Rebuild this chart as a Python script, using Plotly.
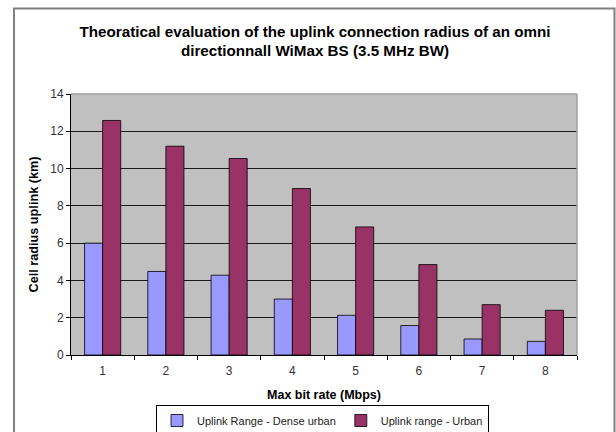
import plotly.graph_objects as go

categories = ["1", "2", "3", "4", "5", "6", "7", "8"]
dense_urban = [6.0, 4.48, 4.28, 3.0, 2.13, 1.58, 0.86, 0.73]
urban = [12.58, 11.2, 10.54, 8.93, 6.87, 4.85, 2.7, 2.4]
y_ticks = [0, 2, 4, 6, 8, 10, 12, 14]

FONT = "Liberation Sans, Arial, sans-serif"

fig = go.Figure()
fig.add_trace(go.Bar(x=categories, y=dense_urban, name="Uplink Range - Dense urban",
                     marker=dict(color="#9999FF", line=dict(color="#000000", width=0.8))))
fig.add_trace(go.Bar(x=categories, y=urban, name="Uplink range - Urban",
                     marker=dict(color="#993366", line=dict(color="#000000", width=0.8))))

W, H = 616, 432
# plot area in window pixels: x 71..577, y 94..355
L, R, T, B = 71, 616 - 577, 94, 432 - 355
pw, ph = W - L - R, H - T - B

def px(x):
    return (x - L) / pw

def py(y):
    return (H - B - y) / ph

fig.update_layout(
    width=W, height=H,
    margin=dict(l=L, r=R, t=T, b=B, pad=0, autoexpand=False),
    paper_bgcolor="white",
    plot_bgcolor="#C0C0C0",
    barmode="group",
    bargap=0.4286,
    bargroupgap=0,
    font=dict(family=FONT, size=12, color="#222222"),
    title=dict(text="<b>Theoratical evaluation of the uplink connection radius of an omni<br>directionnall WiMax BS (3.5 MHz BW)</b>",
               x=px(315), xref="paper", xanchor="center",
               y=1 - 36.5 / H, yref="container", yanchor="middle",
               font=dict(family=FONT, size=15.2, color="#000000")),
    showlegend=True,
    legend=dict(orientation="h", x=px(322.5), xanchor="center", y=py(405), yanchor="top",
                bordercolor="#000000", borderwidth=1, bgcolor="white",
                font=dict(family=FONT, size=11, color="#222222"),
                itemwidth=30, tracegroupgap=0),
    xaxis=dict(type="category", tickson="boundaries", ticks="outside", ticklen=4,
               tickcolor="#000000", showline=True, linecolor="#000000", linewidth=1,
               showgrid=False, tickfont=dict(size=12, color="#333333"),
               ticklabelstandoff=5,
               title=dict(text="<b>Max bit rate (Mbps)</b>", standoff=12,
                          font=dict(family=FONT, size=12.5, color="#000000"))),
    yaxis=dict(range=[0, 14], tickvals=y_ticks, ticks="outside", ticklen=4,
               tickcolor="#000000", showline=True, linecolor="#000000", linewidth=1,
               showgrid=True, gridcolor="#1a1a1a", gridwidth=1, zeroline=False,
               tickfont=dict(size=12, color="#333333"),
               title=dict(text="<b>Cell radius uplink (km)</b>", standoff=8,
                          font=dict(family=FONT, size=12.7, color="#000000"))),
    shapes=[
        dict(type="line", xref="paper", yref="paper", x0=0, x1=1, y0=1, y1=1,
             line=dict(color="#A0A0A0", width=1.5), layer="above"),
        dict(type="line", xref="paper", yref="paper", x0=1, x1=1, y0=0, y1=1,
             line=dict(color="#A0A0A0", width=1.5), layer="above"),
        dict(type="rect", xref="paper", yref="paper",
             x0=px(14), x1=px(614.5), y0=py(8.5), y1=py(445),
             line=dict(color="#808080", width=2), layer="below"),
    ],
)

fig.write_html(
    "out.html",
    config={"displayModeBar": False},
    post_script="document.body.style.margin='0';document.body.style.overflow='hidden';",
)
